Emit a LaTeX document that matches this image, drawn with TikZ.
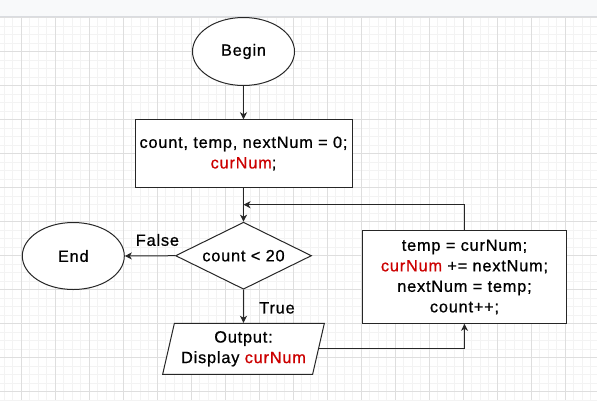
\documentclass[tikz,border=0pt]{standalone}
\usepackage{fontspec}
\setmainfont{Liberation Sans}[LetterSpace=5,FakeBold=0.8]
\usetikzlibrary{shapes.geometric,arrows.meta,calc}

\definecolor{gridminor}{RGB}{243,243,243}
\definecolor{gridmajor}{RGB}{222,222,222}
\definecolor{barfill}{RGB}{248,249,250}
\definecolor{barline}{RGB}{218,220,224}
\definecolor{varred}{RGB}{204,0,0}
\newcommand{\varname}[1]{\textcolor{varred}{#1}}

\begin{document}
\begin{tikzpicture}[x=1pt,y=-1pt,
  every node/.style={font=\fontsize{16.3}{20.5}\selectfont, text=black},
  shapeline/.style={draw=black!85, line width=1pt, fill=white, inner sep=0pt, align=center},
  terminal/.style={shapeline, ellipse, minimum width=102pt, minimum height=68pt},
  process/.style={shapeline, rectangle},
  decision/.style={shapeline, diamond, aspect=2, minimum width=136pt, minimum height=67pt},
  iobox/.style={shapeline, trapezium, trapezium left angle=71.6, trapezium right angle=108.4,
    trapezium stretches body, minimum width=161.7pt, minimum height=51pt},
  flow/.style={draw=black!85, line width=1pt, -{Stealth[length=7pt,width=7pt,inset=2pt]}}]
  \useasboundingbox (0,0) rectangle (597,400);

  % page bar and grid
  \fill[barfill] (0,0) rectangle (597,16.5);
  \draw[barline, line width=1pt] (0,16.5)--(597,16.5);
  \begin{scope}
    \clip (0,17) rectangle (597,400);
    \foreach \k in {-1,...,70} {
      \draw[gridminor, line width=1pt] ({4.3+8.5*\k},17)--++(0,383);
    }
    \foreach \k in {-1,...,46} {
      \draw[gridminor, line width=1pt] (0,{17.7+8.5*\k})--++(597,0);
    }
    \foreach \k in {0,...,17} {
      \draw[gridmajor, line width=1pt] ({21.3+34*\k},17)--++(0,383);
    }
    \foreach \k in {0,...,11} {
      \draw[gridmajor, line width=1pt] (0,{17.7+34*\k})--++(597,0);
    }
  \end{scope}

  % flowchart
  \node[terminal] (begin) at (243.5,51.5) {Begin};
  \node[process, minimum width=217pt, minimum height=67.5pt] (init) at (243.5,153.5)
    {count, temp, nextNum = 0;\\ \varname{curNum};};
  \node[decision] (cond) at (243.5,255.7) {count < 20};
  \node[terminal, minimum height=67pt] (finish) at (73.3,256) {End};
  \node[iobox] (out) at (243.5,348.8) {Output:\\ Display \varname{curNum}};
  \node[process, minimum width=204.4pt, minimum height=92.6pt] (update) at (464.5,277)
    {temp = curNum;\\ \varname{curNum} += nextNum;\\ nextNum = temp;\\ count++;};
  \coordinate (merge) at ($(init.south)!0.5!(cond.north)$);

  \draw[flow] (begin)--(init);
  \draw[flow] (init)--(cond);
  \draw[flow] (cond.west)--node[pos=0.35, above=6pt]{False}(finish.east);
  \draw[flow] (cond.south)--node[pos=0.55, right=12pt]{True}(out.north);
  \draw[flow] (out.east)-|(update.south);
  \draw[flow] (update.north)|-(merge);
\end{tikzpicture}
\end{document}
